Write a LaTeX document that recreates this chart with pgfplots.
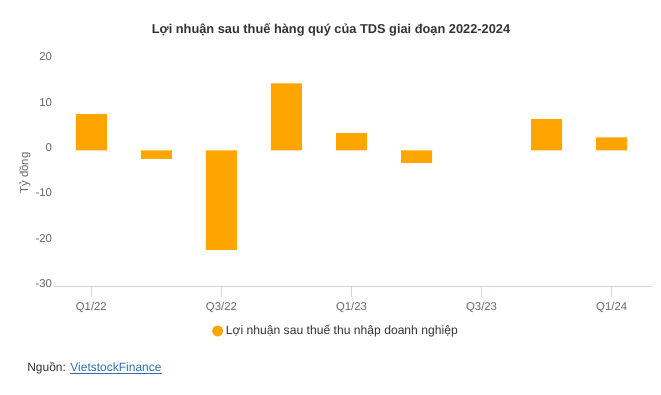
\documentclass[border=0pt]{standalone}
\usepackage{fontspec}
\setmainfont{Liberation Sans}
\usepackage{pgfplots}
\pgfplotsset{compat=1.18}
\definecolor{barorange}{HTML}{FFA500}
\definecolor{axisline}{HTML}{CCD6EB}
\definecolor{ticktext}{HTML}{666666}
\definecolor{titletext}{HTML}{333333}
\definecolor{linkblue}{HTML}{2F6EB5}
\begin{document}
\begin{tikzpicture}[x=0.75pt,y=0.75pt]
\path[use as bounding box] (0,0) rectangle (661,395);
\begin{axis}[
  at={(40.5pt,81.225pt)}, anchor=south west,
  scale only axis,
  width=448.5pt, height=170.25pt,
  xmin=-0.574, xmax=8.62,
  ymin=-30, ymax=20,
  ytick={-30,-20,-10,0,10,20},
  xtick={0,2,4,6,8},
  xticklabels={Q1/22,Q3/22,Q1/23,Q3/23,Q1/24},
  axis x line*=bottom,
  axis y line*=left,
  x axis line style={draw=axisline, -},
  y axis line style={draw=none},
  major tick length=7.5pt,
  xtick style={draw=axisline, line width=0.75pt},
  xtick align=inside,
  ytick style={draw=none},
  tick label style={font=\fontsize{8.5}{10}\selectfont, text=ticktext},
  yticklabel style={yshift=2.2pt, xshift=2pt},
  xticklabel style={yshift=-1pt},
  /pgf/number format/assume math mode=true,
  ybar, bar width=23.25pt,
  legend style={at={(0.472,-0.195)}, anchor=center, draw=none, fill=none,
    font=\fontsize{9.1}{11}\selectfont, text=titletext},
  legend image code/.code={\fill[barorange] (-0.1cm,0cm) circle (4.2pt);},
  clip=false,
]
\addplot[fill=barorange, draw=none] coordinates {
  (0,8.0) (1,-1.85) (2,-21.9) (3,14.8) (4,3.8) (5,-2.7) (7,6.9) (8,2.9)
};
\addlegendentry{Lợi nhuận sau thuế thu nhập doanh nghiệp}
\end{axis}
\node[font=\bfseries\fontsize{9.6}{11}\selectfont, text=titletext] at (331,365) {Lợi nhuận sau thuế hàng quý của TDS giai đoạn 2022-2024};
\node[rotate=90, font=\fontsize{8.5}{10}\selectfont, text=ticktext] at (25,222) {Tỷ đồng};
\node[anchor=west, font=\fontsize{9}{11}\selectfont, text=titletext, inner sep=0pt] at (27,27) {Nguồn: \textcolor{linkblue}{\underline{VietstockFinance}}};
\end{tikzpicture}
\end{document}
